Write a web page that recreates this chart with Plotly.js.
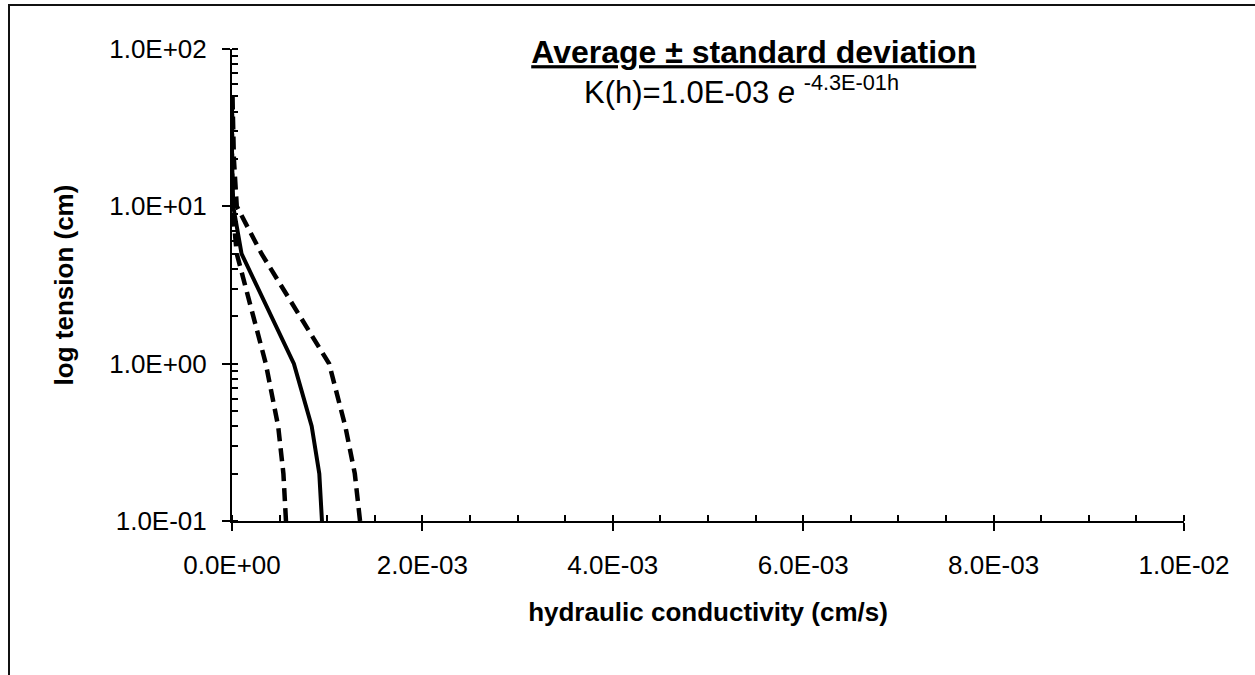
<!DOCTYPE html>
<html>
<head>
<meta charset="utf-8">
<script src="https://cdn.plot.ly/plotly-3.0.1.min.js"></script>
<style>
  html, body { margin: 0; padding: 0; background: #fff; overflow: hidden; }
  #wrap { position: relative; width: 1255px; height: 675px; }
  #chart { position: absolute; left: 0; top: 0; width: 1255px; height: 675px; }
  #frame { position: absolute; left: 8px; top: 4px; width: 1300px; height: 700px;
           border: 2px solid #111; pointer-events: none; }
</style>
</head>
<body>
<div id="wrap">
  <div id="chart"></div>
  <div id="frame"></div>
</div>
<script>
// tension h (cm)
const tension = [0.1, 0.2, 0.4, 1, 5, 10, 20, 50];
// hydraulic conductivity (cm/s)
const kMean  = [0.000945, 0.000917, 0.000837, 0.00065, 0.0001, 0.000013, 0.0000005, 0];
const kUpper = [0.001345, 0.00129, 0.00119, 0.00102, 0.00031, 0.00005, 0.00002, 0.000005];
const kLower = [0.000567, 0.00054, 0.000485, 0.000355, 0.00005, 0.000005, 0, 0];

const xTickVals = [0, 0.002, 0.004, 0.006, 0.008, 0.01];
const xTickText = ['0.0E+00', '2.0E-03', '4.0E-03', '6.0E-03', '8.0E-03', '1.0E-02'];
const yTickVals = [0.1, 1, 10, 100];
const yTickText = ['1.0E-01', '1.0E+00', '1.0E+01', '1.0E+02'];

const FONT = 'Liberation Sans, Arial, Helvetica, sans-serif';

const traces = [
  { x: kMean, y: tension, mode: 'lines', name: 'average',
    line: { color: '#000', width: 4 } },
  { x: kUpper, y: tension, mode: 'lines', name: 'average + sd',
    line: { color: '#000', width: 4.5, dash: '13px,7px' } },
  { x: kLower, y: tension, mode: 'lines', name: 'average - sd',
    line: { color: '#000', width: 4.5, dash: '13px,7px' } }
];

const layout = {
  width: 1255, height: 675,
  margin: { l: 232, r: 71, t: 49, b: 154 },
  paper_bgcolor: 'rgba(0,0,0,0)', plot_bgcolor: 'rgba(0,0,0,0)',
  showlegend: false,
  font: { family: FONT, size: 26, color: '#000' },
  title: {
    text: '<b><span style="text-decoration:underline">Average ± standard deviation</span></b>',
    font: { family: FONT, size: 32, color: '#000' },
    x: 0.548, xref: 'paper', xanchor: 'center',
    y: 0.923, yref: 'container', yanchor: 'middle'
  },
  xaxis: {
    range: [0, 0.01], tickmode: 'array', tickvals: xTickVals, ticktext: xTickText,
    showgrid: false, zeroline: false, showline: true, linecolor: '#000', linewidth: 2,
    ticks: 'outside', ticklen: 8, tickwidth: 2, tickcolor: '#000',
    ticklabelstandoff: 12,
    tickfont: { family: FONT, size: 26, color: '#000' },
    minor: { tick0: 0, dtick: 0.0005, ticks: 'inside', ticklen: 6, tickwidth: 2, tickcolor: '#000', showgrid: false },
    title: { text: '<b>hydraulic conductivity (cm/s)</b>', font: { family: FONT, size: 26, color: '#000' }, standoff: 24 },
    fixedrange: true
  },
  yaxis: {
    type: 'log', range: [-1, 2], tickmode: 'array', tickvals: yTickVals, ticktext: yTickText,
    showgrid: false, zeroline: false, showline: true, linecolor: '#000', linewidth: 2,
    ticks: 'outside', ticklen: 8, tickwidth: 2, tickcolor: '#000',
    ticklabelstandoff: 10,
    tickfont: { family: FONT, size: 26, color: '#000' },
    minor: { tick0: 0, dtick: 'D1', ticks: 'inside', ticklen: 6, tickwidth: 2, tickcolor: '#000', showgrid: false },
    title: { text: '<b>log tension (cm)</b>', font: { family: FONT, size: 26, color: '#000' }, standoff: 28 },
    fixedrange: true
  },
  xaxis2: {
    overlaying: 'x', anchor: 'y', side: 'bottom', range: [0, 0.01],
    tickmode: 'array', tickvals: xTickVals, showticklabels: false,
    ticks: 'inside', ticklen: 8, tickwidth: 2, tickcolor: '#000',
    showgrid: false, zeroline: false, showline: false, fixedrange: true
  },
  yaxis2: {
    overlaying: 'y', anchor: 'x', side: 'left', type: 'log', range: [-1, 2],
    tickmode: 'array', tickvals: yTickVals, showticklabels: false,
    ticks: 'inside', ticklen: 8, tickwidth: 2, tickcolor: '#000',
    showgrid: false, zeroline: false, showline: false, fixedrange: true
  },
  annotations: [{
    text: 'K(h)=1.0E-03 <i>e</i> <sup>-4.3E-01h</sup>',
    xref: 'paper', yref: 'paper', x: 0.535, y: 0.913, xanchor: 'center', yanchor: 'middle',
    showarrow: false, font: { family: FONT, size: 31, color: '#000' }
  }]
};

Plotly.newPlot('chart', traces, layout, { displayModeBar: false, staticPlot: true });
</script>
</body>
</html>
